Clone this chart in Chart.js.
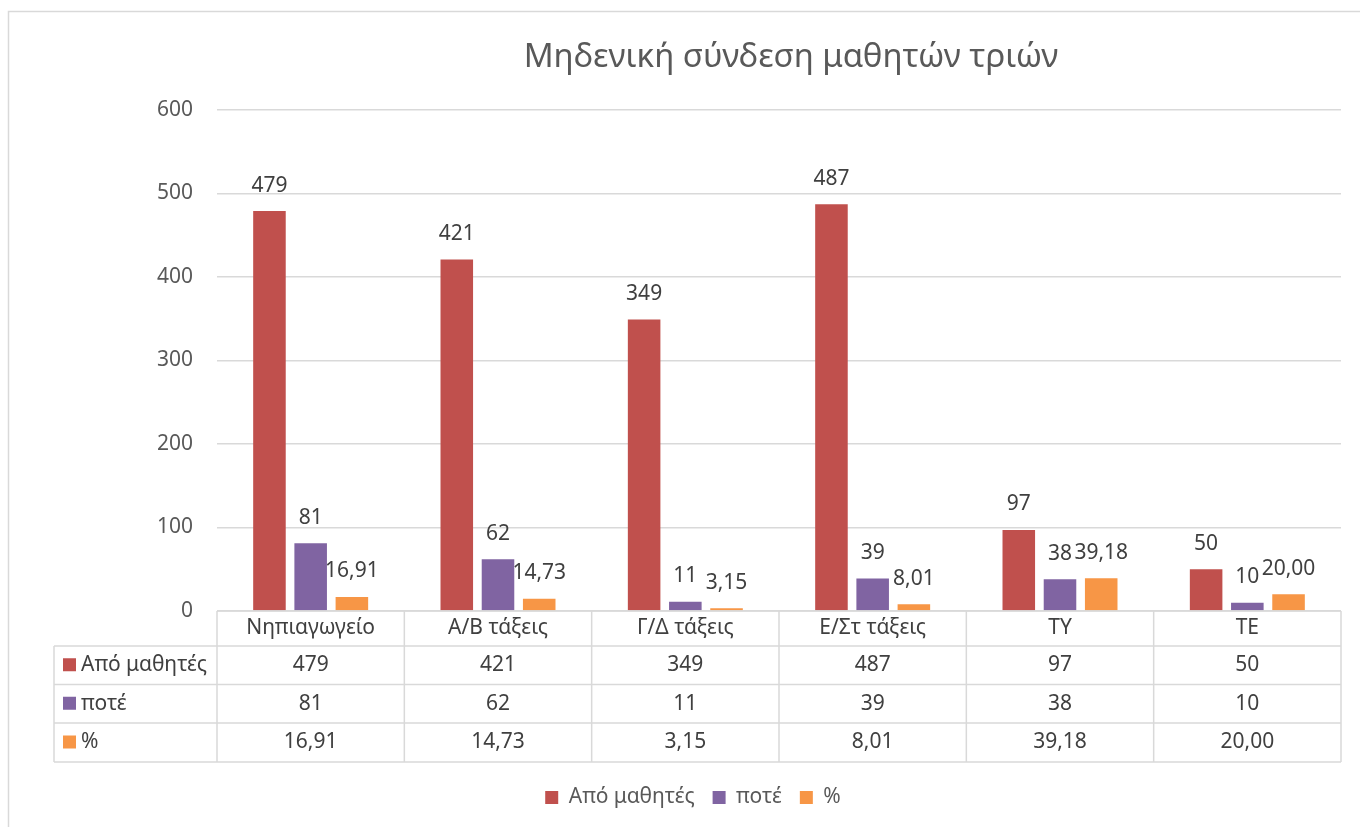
<!DOCTYPE html>
<html>
<head>
<meta charset="utf-8">
<script src="https://cdn.jsdelivr.net/npm/chart.js@4/dist/chart.umd.min.js"></script>
<style>
  html, body { margin: 0; padding: 0; background: #fff; overflow: hidden; }
  #wrap { position: relative; width: 1360px; height: 827px; }
</style>
</head>
<body>
<div id="wrap"><canvas id="c" width="1360" height="827"></canvas></div>
<script>
(function () {
    "use strict";

    var TITLE = "Μηδενική σύνδεση μαθητών τριών";
    var categories = ["Νηπιαγωγείο", "Α/Β τάξεις", "Γ/Δ τάξεις", "Ε/Στ τάξεις", "ΤΥ", "ΤΕ"];
    var seriesNames = ["Από μαθητές", "ποτέ", "%"];
    var fromStudents = [479, 421, 349, 487, 97, 50];
    var never = [81, 62, 11, 39, 38, 10];
    var percent = [16.91, 14.73, 3.15, 8.01, 39.18, 20.00];
    var colors = ["#C0504D", "#8064A2", "#F79646"];

    var FONT = "'Noto Sans', 'Open Sans', sans-serif";
    var GRID = "#d9d9d9";

    // ελληνική μορφή αριθμών: 16,91
    var fmt = function (v, dec) { return dec ? v.toFixed(2).replace(".", ",") : String(v); };
    var decimals = [false, false, true];

    // πλαίσιο, τίτλος, ετικέτες τιμών και πίνακας δεδομένων κάτω από τον άξονα
    var excelBits = {
        id: "excelBits",
        beforeDraw: function (chart) {
            var ctx = chart.ctx;
            ctx.save();
            ctx.strokeStyle = GRID;
            ctx.lineWidth = 1.5;
            ctx.beginPath();
            ctx.moveTo(8.5, chart.height); ctx.lineTo(8.5, 11.5); ctx.lineTo(chart.width, 11.5);
            ctx.stroke();
            ctx.fillStyle = "#595959";
            ctx.font = "33px " + FONT;
            ctx.textAlign = "center";
            ctx.textBaseline = "middle";
            ctx.fillText(TITLE, 791, 58);
            ctx.restore();
        },
        afterDatasetsDraw: function (chart) {
            var ctx = chart.ctx;
            ctx.save();
            ctx.fillStyle = "#404040";
            ctx.font = "21px " + FONT;
            ctx.textAlign = "center";
            ctx.textBaseline = "bottom";
            chart.data.datasets.forEach(function (ds, i) {
                chart.getDatasetMeta(i).data.forEach(function (bar, j) {
                    ctx.fillText(fmt(ds.data[j], decimals[i]), bar.x, bar.y - 15);
                });
            });
            ctx.restore();
        },
        afterDraw: function (chart) {
            var ctx = chart.ctx, a = chart.chartArea, n = categories.length;
            var colW = (a.right - a.left) / n;
            var labelLeft = 54;
            var rowTops = [a.bottom, a.bottom + 35, a.bottom + 73.5, a.bottom + 112];
            var bottom = a.bottom + 151;
            ctx.save();
            ctx.strokeStyle = GRID;
            ctx.lineWidth = 1.5;
            ctx.beginPath();
            // οριζόντιες
            ctx.moveTo(a.left, rowTops[0]); ctx.lineTo(a.right, rowTops[0]);
            for (var r = 1; r < rowTops.length; r++) {
                ctx.moveTo(labelLeft, rowTops[r]); ctx.lineTo(a.right, rowTops[r]);
            }
            ctx.moveTo(labelLeft, bottom); ctx.lineTo(a.right, bottom);
            // κάθετες
            ctx.moveTo(labelLeft, rowTops[1]); ctx.lineTo(labelLeft, bottom);
            for (var c = 0; c <= n; c++) {
                var x = a.left + c * colW;
                ctx.moveTo(x, rowTops[0]); ctx.lineTo(x, bottom);
            }
            ctx.stroke();

            ctx.font = "21px " + FONT;
            ctx.fillStyle = "#404040";
            ctx.textBaseline = "middle";
            ctx.textAlign = "center";
            var xs = chart.scales.x;
            categories.forEach(function (cat, j) {
                ctx.fillText(cat, xs.getPixelForValue(j), (rowTops[0] + rowTops[1]) / 2);
            });
            chart.data.datasets.forEach(function (ds, i) {
                var yMid = (rowTops[i + 1] + (rowTops[i + 2] || bottom)) / 2;
                ctx.textAlign = "center";
                ds.data.forEach(function (v, j) {
                    ctx.fillText(fmt(v, decimals[i]), xs.getPixelForValue(j), yMid);
                });
                ctx.fillStyle = ds.backgroundColor;
                ctx.fillRect(63, yMid - 7, 13, 13);
                ctx.fillStyle = "#404040";
                ctx.textAlign = "left";
                ctx.fillText(ds.label, 81, yMid);
            });
            ctx.restore();
        }
    };

    new Chart(document.getElementById("c").getContext("2d"), {
        type: "bar",
        data: {
            labels: categories,
            datasets: [
                { label: seriesNames[0], data: fromStudents, backgroundColor: colors[0] },
                { label: seriesNames[1], data: never, backgroundColor: colors[1] },
                { label: seriesNames[2], data: percent, backgroundColor: colors[2] }
            ]
        },
        options: {
            responsive: false,
            animation: false,
            devicePixelRatio: 1,
            // αριστερό padding μικρό ώστε το υπόμνημα να κεντράρει όπως στο Excel
            layout: { padding: { left: 45, right: 19, top: 110, bottom: 9 } },
            datasets: { bar: { categoryPercentage: 0.66, barPercentage: 0.79 } },
            scales: {
                x: {
                    grid: { display: false },
                    border: { display: false },
                    ticks: { display: false },
                    afterFit: function (s) { s.height = 158; }
                },
                y: {
                    min: 0, max: 600,
                    ticks: { stepSize: 100, padding: 24, color: "#595959", font: { family: FONT, size: 21 } },
                    grid: { color: GRID, lineWidth: 1.5, drawTicks: false },
                    border: { display: false },
                    afterFit: function (s) { s.width = 172; }
                }
            },
            plugins: {
                title: { display: false },
                tooltip: { enabled: false },
                legend: {
                    position: "bottom",
                    labels: {
                        boxWidth: 13, boxHeight: 13, padding: 18,
                        color: "#595959",
                        font: { family: FONT, size: 21 }
                    }
                }
            }
        },
        plugins: [excelBits]
    });
})();
</script>
</body>
</html>
